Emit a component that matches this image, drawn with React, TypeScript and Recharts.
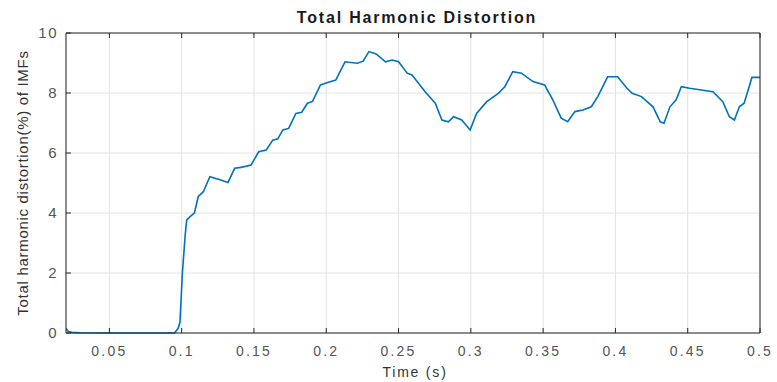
import { LineChart, Line, XAxis, YAxis, CartesianGrid } from "recharts";

const timeS = [
  0.02, 0.0215, 0.024, 0.03, 0.05, 0.08, 0.095, 0.0975, 0.0988, 0.1005,
  0.1025, 0.1035, 0.1058, 0.1088, 0.1115, 0.115, 0.1195, 0.126, 0.132, 0.1367,
  0.141, 0.148, 0.1533, 0.1585, 0.163, 0.1665, 0.17, 0.174, 0.179, 0.183,
  0.187, 0.1905, 0.196, 0.2015, 0.2066, 0.213, 0.2215, 0.2255, 0.2295, 0.2345,
  0.241, 0.2456, 0.25, 0.256, 0.2593, 0.2684, 0.2754, 0.28, 0.2845, 0.288,
  0.2937, 0.2995, 0.304, 0.311, 0.319, 0.3235, 0.329, 0.335, 0.343, 0.351,
  0.3567, 0.3625, 0.367, 0.372, 0.3775, 0.3833, 0.3878, 0.3946, 0.4015, 0.408,
  0.4116, 0.418, 0.426, 0.431, 0.4336, 0.4377, 0.442, 0.4456, 0.4513, 0.4594,
  0.4674, 0.4743, 0.4788, 0.4823, 0.4857, 0.489, 0.4925, 0.4944, 0.5,
];

const thd = [
  0.16, 0.05, 0.02, 0.01, 0, 0, 0, 0.15, 0.35, 2.0,
  3.3, 3.77, 3.88, 4.0, 4.55, 4.71, 5.21, 5.12, 5.02, 5.49,
  5.52, 5.6, 6.04, 6.1, 6.43, 6.47, 6.77, 6.82, 7.32, 7.36,
  7.66, 7.72, 8.27, 8.36, 8.43, 9.04, 8.99, 9.06, 9.38, 9.3,
  9.04, 9.1, 9.04, 8.66, 8.6, 8.04, 7.66, 7.1, 7.04, 7.21,
  7.1, 6.77, 7.32, 7.71, 7.99, 8.21, 8.71, 8.66, 8.38, 8.27,
  7.77, 7.16, 7.04, 7.38, 7.43, 7.54, 7.88, 8.54, 8.54, 8.16,
  7.99, 7.88, 7.54, 7.04, 6.99, 7.54, 7.77, 8.21, 8.16, 8.1,
  8.04, 7.71, 7.21, 7.1, 7.54, 7.66, 8.21, 8.52, 8.52,
];

const xTicks = [0.05, 0.1, 0.15, 0.2, 0.25, 0.3, 0.35, 0.4, 0.45, 0.5];
const xTickLabels = ["0.05", "0.1", "0.15", "0.2", "0.25", "0.3", "0.35", "0.4", "0.45", "0.5"];
const yTicks = [0, 2, 4, 6, 8, 10];

const data = timeS.map((t, i) => ({ t, thd: thd[i] }));

const FONT = "'Liberation Sans', Arial, sans-serif";
const AXIS = "#262626";
const TICK_LEN = 5;

// MATLAB-style: ticks point into the plot box
function BottomTick({ x, y, index }: any) {
  return (
    <g>
      <line x1={x} y1={y} x2={x} y2={y - TICK_LEN} stroke={AXIS} />
      <text x={x} y={y + 23} textAnchor="middle" fontSize={14} letterSpacing={2.2} fill="#555" fontFamily={FONT}>
        {xTickLabels[index]}
      </text>
    </g>
  );
}

function LeftTick({ x, y, payload }: any) {
  return (
    <g>
      <line x1={x} y1={y} x2={x + TICK_LEN} y2={y} stroke={AXIS} />
      <text x={x - 8} y={y + 5} textAnchor="end" fontSize={15} letterSpacing={1.5} fill="#555" fontFamily={FONT}>
        {payload.value}
      </text>
    </g>
  );
}

function TopTick({ x, y }: any) {
  return <line x1={x} y1={y} x2={x} y2={y + TICK_LEN} stroke={AXIS} />;
}

function RightTick({ x, y }: any) {
  return <line x1={x} y1={y} x2={x - TICK_LEN} y2={y} stroke={AXIS} />;
}

export default function App() {
  return (
    <div style={{ position: "absolute", left: 0, top: 0, width: 777, height: 382, background: "#fff" }}>
      <LineChart
        width={777}
        height={382}
        data={data}
        margin={{ top: 23, right: 7, bottom: 29, left: 36 }}
      >
        <CartesianGrid xAxisId="b" yAxisId="l" stroke="#e3e3e3" strokeWidth={1} />
        <XAxis
          xAxisId="b"
          dataKey="t"
          type="number"
          domain={[0.02, 0.5]}
          ticks={xTicks}
          allowDataOverflow
          height={20}
          tickSize={0}
          tickMargin={0}
          tickLine={false}
          axisLine={{ stroke: AXIS }}
          tick={<BottomTick />}
          interval={0}
        />
        <XAxis
          xAxisId="top"
          orientation="top"
          dataKey="t"
          type="number"
          domain={[0.02, 0.5]}
          ticks={xTicks}
          allowDataOverflow
          height={10}
          tickSize={0}
          tickMargin={0}
          tickLine={false}
          axisLine={{ stroke: AXIS }}
          tick={<TopTick />}
          interval={0}
        />
        <YAxis
          yAxisId="l"
          type="number"
          domain={[0, 10]}
          ticks={yTicks}
          width={30}
          tickSize={0}
          tickMargin={0}
          tickLine={false}
          axisLine={{ stroke: AXIS }}
          tick={<LeftTick />}
          interval={0}
        />
        <YAxis
          yAxisId="r"
          orientation="right"
          type="number"
          domain={[0, 10]}
          ticks={yTicks}
          width={10}
          tickSize={0}
          tickMargin={0}
          tickLine={false}
          axisLine={{ stroke: AXIS }}
          tick={<RightTick />}
          interval={0}
        />
        <Line
          xAxisId="b"
          yAxisId="l"
          dataKey="thd"
          type="linear"
          stroke="#0072BD"
          strokeWidth={1.6}
          dot={false}
          isAnimationActive={false}
        />
      </LineChart>
      <svg width={777} height={382} style={{ position: "absolute", left: 0, top: 0, pointerEvents: "none" }}>
        <text x={417} y={23} textAnchor="middle" fontSize={16} fontWeight="bold" letterSpacing={1.8} fill="#1a1a1a" fontFamily={FONT}>
          Total Harmonic Distortion
        </text>
        <text x={415} y={377} textAnchor="middle" fontSize={14} letterSpacing={1.8} fill="#333" fontFamily={FONT}>
          Time (s)
        </text>
        <text transform="translate(28,183) rotate(-90)" textAnchor="middle" fontSize={15} letterSpacing={0.7} fill="#333" fontFamily={FONT}>
          Total harmonic distortion(%) of IMFs
        </text>
      </svg>
    </div>
  );
}
